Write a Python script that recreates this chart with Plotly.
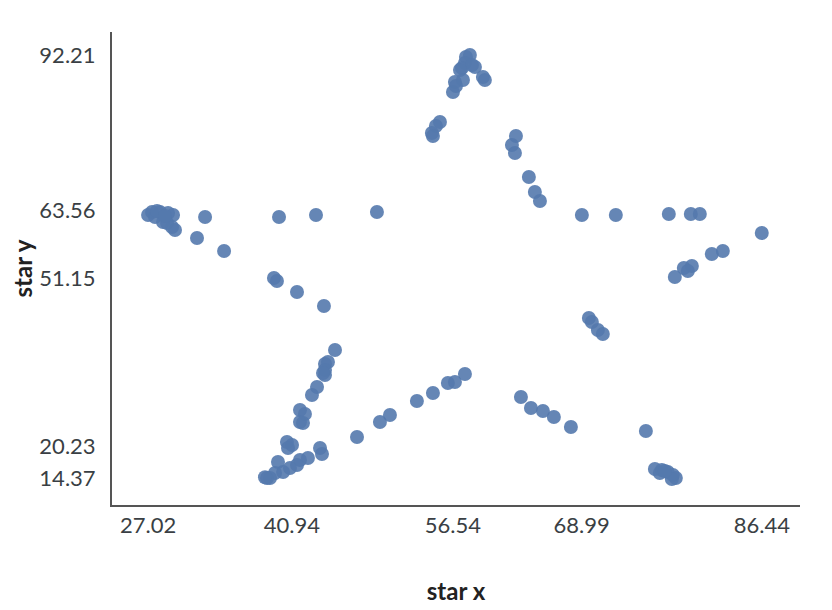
import plotly.graph_objects as go

# star shape, values
star_x = [
    27.02, 27.41, 28.18, 28.96, 29.44, 28.86, 29.63, 29.34, 28.47, 27.70, 27.89, 28.66,
    32.54, 31.76, 34.38, 39.70, 43.28, 49.18, 39.21, 39.50, 41.44, 44.05,
    58.18, 57.80, 57.70, 58.67, 57.41, 58.38, 57.22, 59.63, 59.44, 56.73, 56.54, 57.51, 56.83,
    55.28, 54.89, 54.50, 54.60, 62.64, 62.25, 62.54, 63.89, 64.47, 64.96,
    69.02, 72.31, 77.44, 79.57, 80.44, 86.44, 82.67, 81.60, 79.67, 78.89, 79.28, 78.02,
    69.70, 69.99, 70.57, 71.05,
    63.12, 64.09, 65.25, 66.31, 67.96, 75.22,
    76.09, 76.76, 77.34, 77.83, 78.12, 77.73, 76.57, 77.05,
    45.12, 44.44, 44.15, 44.15, 44.15, 43.96, 43.38, 42.89, 41.73, 42.21, 41.73, 42.02,
    40.47, 40.96, 40.57, 43.67, 43.86, 39.60, 41.73, 42.50, 41.44, 40.76, 40.09, 39.31,
    38.54, 38.83, 38.34,
    47.25, 49.47, 50.44, 53.05, 54.60, 56.05, 56.73, 57.70,
]
star_y = [
    62.77, 63.32, 63.32, 63.13, 62.77, 61.29, 60.00, 60.56, 61.48, 62.40, 63.50, 62.59,
    62.40, 58.53, 56.14, 62.40, 62.77, 63.32, 51.17, 50.62, 48.59, 46.02,
    92.21, 91.84, 90.74, 90.00, 89.82, 90.37, 89.45, 87.61, 88.16, 87.24, 85.40, 87.61, 86.50,
    79.88, 79.14, 77.86, 77.30, 77.30, 75.65, 74.18, 69.76, 66.99, 65.34,
    62.77, 62.77, 62.95, 62.95, 62.95, 59.45, 56.14, 55.59, 53.38, 53.01, 52.46, 51.36,
    43.81, 43.07, 41.60, 40.87,
    29.27, 27.25, 26.70, 25.59, 23.75, 23.02,
    16.02, 15.84, 15.47, 14.92, 14.37, 14.18, 15.29, 15.65,
    37.92, 35.71, 35.35, 34.24, 33.32, 33.69, 31.11, 29.64, 26.88, 26.14, 24.67, 24.49,
    21.00, 20.44, 19.89, 19.89, 18.79, 17.31, 17.68, 18.05, 16.76, 16.21, 15.47, 15.29,
    14.37, 14.37, 14.50,
    21.91, 24.67, 25.96, 28.54, 30.01, 31.85, 32.03, 33.50,
]

x_ticks = [27.02, 40.94, 56.54, 68.99, 86.44]
y_ticks = [14.37, 20.23, 51.15, 63.56, 92.21]

fig = go.Figure(go.Scatter(
    x=star_x, y=star_y, mode="markers",
    marker=dict(size=14, color="#5479ad", opacity=0.9, line=dict(width=0)),
))

axis_style = dict(
    showgrid=False, zeroline=False, showline=True, linecolor="#555555", linewidth=2,
    ticks="outside", tickcolor="rgba(0,0,0,0)", automargin=False,
    tickfont=dict(size=22, color="#3a3f44"),
)

fig.update_layout(
    width=832, height=610,
    margin=dict(l=104, r=40, t=24, b=113),
    plot_bgcolor="white", paper_bgcolor="white",
    font=dict(family="Lato, sans-serif"),
    showlegend=False,
    xaxis=dict(
        range=[23.53, 90.14], tickvals=x_ticks, ticktext=[f"{v:.2f}" for v in x_ticks],
        ticklen=0,
        title=dict(text="<b>star x</b>", font=dict(size=24, color="#222222"), standoff=46),
        **axis_style,
    ),
    yaxis=dict(
        range=[9.40, 96.44], tickvals=y_ticks, ticktext=[f"{v:.2f}" for v in y_ticks],
        ticklen=10,
        title=dict(text="<b>star y</b>", font=dict(size=24, color="#222222"), standoff=4),
        **axis_style,
    ),
)

fig.write_html("out.html")
